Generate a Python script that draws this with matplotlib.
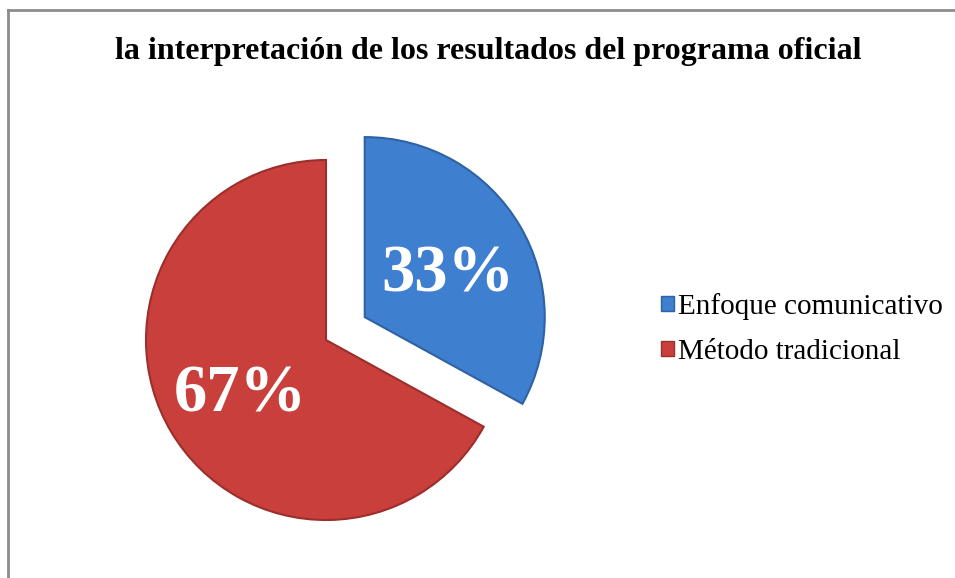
import matplotlib.pyplot as plt
from matplotlib.lines import Line2D

labels = ['Enfoque comunicativo', 'Método tradicional']
values = [33, 67]
pct_labels = ['33%', '67%']
colors = ['#3f7fcf', '#c83f3b']
edges = ['#2f62a3', '#9c2e2b']

plt.rcParams['font.family'] = ['Liberation Serif', 'DejaVu Serif']

fig = plt.figure(figsize=(9.55, 5.78), dpi=100)
W, H = 955, 578

# frame around the chart (cut at right and bottom)
fig.add_artist(Line2D([8 / W, 8 / W], [0, 1 - 9.5 / H], color='#8c8c8c', lw=2))
fig.add_artist(Line2D([8 / W, 1], [1 - 9.5 / H, 1 - 9.5 / H], color='#8c8c8c', lw=2))

fig.text(488 / W, 1 - 52 / H, 'la interpretación de los resultados del programa oficial',
         ha='center', va='center', fontsize=23, fontweight='bold')

# pie: centre at (326, 340) px, radius 180 px
cx, cy, r, half = 326, 340, 180, 230
ax = fig.add_axes([(cx - half) / W, (H - cy - half) / H, 2 * half / W, 2 * half / H])
wedges, _ = ax.pie(values, colors=colors, startangle=90, counterclock=False,
                   explode=[0.25, 0], radius=1,
                   wedgeprops=dict(linewidth=1.5))
for w, e in zip(wedges, edges):
    w.set_edgecolor(e)
lim = half / r
ax.set_xlim(-lim, lim)
ax.set_ylim(-lim, lim)

# percentage labels
fig.text(448 / W, 1 - 275 / H, pct_labels[0], ha='center', va='center',
         color='white', fontsize=48, fontweight='bold')
fig.text(240 / W, 1 - 395 / H, pct_labels[1], ha='center', va='center',
         color='white', fontsize=48, fontweight='bold')

handles = [plt.Rectangle((0, 0), 1, 1, facecolor=c, edgecolor=e) for c, e in zip(colors, edges)]
fig.legend(handles, labels, loc='center left', bbox_to_anchor=(661 / W, 1 - 329 / H),
           frameon=False, fontsize=21, handlelength=0.45, handleheight=0.45,
           handletextpad=0.12, labelspacing=0.65, borderpad=0, borderaxespad=0)

fig.savefig('out.png', dpi=100)
